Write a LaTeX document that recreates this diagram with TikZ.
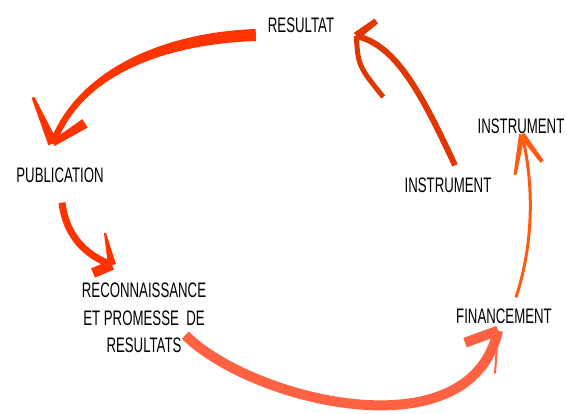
\documentclass[tikz,border=0pt]{standalone}
\usepackage{fontspec}
\setmainfont{Liberation Sans}[FakeStretch=0.63]
\usetikzlibrary{calc}
\definecolor{rouge}{HTML}{FF3300}
\definecolor{rougefonce}{HTML}{E03600}
\definecolor{corail}{HTML}{FF6242}
\definecolor{orange}{HTML}{FF5A12}
\tikzset {etiquette/.style={inner sep=0pt, align=center,
                            font=\fontsize{21}{27.5}\selectfont}}
\tikzset {fleche/.style 2 args={draw=#1, line width=#2, line join=round}}
% barbe : couleur, pointe, bout, demi-largeur a la pointe, demi-largeur au bout
\newcommand {\barbe} [5]
{\fill [#1] ($(#2)!#4!90:(#3)$) -- ($(#3)!#5!-90:(#2)$)
   -- ($(#3)!#5!90:(#2)$) -- ($(#2)!#4!-90:(#3)$) -- cycle;}

\begin{document}
\begin{tikzpicture}[x=1pt,y=-1pt]
  \useasboundingbox (0,0) rectangle (567,414);
  \node [etiquette] (resultat) at (301,25) {RESULTAT};
  \node [etiquette] (publication) at (60,175) {PUBLICATION};
  \node [etiquette,anchor=north] (reconnaissance) at (144,283)
    {RECONNAISSANCE\\ET PROMESSE~ DE\\RESULTATS};
  \node [etiquette] (financement) at (504,316) {FINANCEMENT};
  \node [etiquette] (instrumenta) at (448,185) {INSTRUMENT};
  \node [etiquette] (instrumentb) at (521,126) {INSTRUMENT};
  % resultat -> publication
  \coordinate (p1) at ($(publication.north)+(-7,-24)$);
  \foreach \d in {-3,0,3}
    \draw [fleche={rouge}{6pt}] ($(resultat.west)+(-12,10+\d)$)
      .. controls +(-88,3) and +(27,-73) .. (p1);
  \coordinate (b1) at ($(p1)+(-20,-46)$);
  \coordinate (c1) at ($(p1)+(32,-20)$);
  \barbe{rouge}{p1}{b1}{5pt}{1.5pt}
  \barbe{rouge}{p1}{c1}{3pt}{5pt}
  % instrument -> resultat
  \coordinate (p2) at ($(resultat.east)+(22,11)$);
  \draw [fleche={rougefonce}{6pt}] ($(instrumenta.north)+(7,-12)$)
    .. controls +(-35,-75) and +(39,9) .. (p2);
  \coordinate (b2) at ($(p2)+(20,-15)$);
  \barbe{rougefonce}{p2}{b2}{4pt}{3pt}
  \draw [fleche={rougefonce}{5pt}] (p2) .. controls +(2,30) .. ++(27,61);
  % publication -> reconnaissance
  \coordinate (p3) at ($(reconnaissance.north)+(-32,-18)$);
  \draw [fleche={rouge}{7pt}] ($(publication.south)+(2,20)$)
    .. controls +(4,33) and +(-27,-10) .. (p3);
  \coordinate (b3) at ($(p3)+(-7,-32)$);
  \coordinate (c3) at ($(p3)+(-19,8)$);
  \barbe{rouge}{p3}{b3}{4pt}{1pt}
  \barbe{rouge}{p3}{c3}{5pt}{5pt}
  % reconnaissance -> financement
  \coordinate (p4) at ($(financement.south)+(-6,7)$);
  \draw [fleche={corail}{10pt}] ($(reconnaissance.east)+(-21,17)$)
    .. controls +(65,65) and +(-28,125) .. (p4);
  \coordinate (b4) at ($(p4)+(-33,12)$);
  \barbe{corail}{p4}{b4}{5pt}{5pt}
  \draw [fleche={corail}{2pt}] (p4) -- ++(-3,43);
  % financement -> instrument
  \coordinate (p5) at ($(instrumentb.south)+(1,1)$);
  \draw [fleche={orange}{3pt}] ($(financement.north)+(12,-11)$)
    .. controls +(19,-58) and +(11,45) .. (p5);
  \coordinate (b5) at ($(p5)+(-7,40)$);
  \coordinate (c5) at ($(p5)+(20,27)$);
  \barbe{orange}{p5}{b5}{3pt}{1.5pt}
  \barbe{orange}{p5}{c5}{3pt}{2pt}
\end{tikzpicture}
\end{document}
